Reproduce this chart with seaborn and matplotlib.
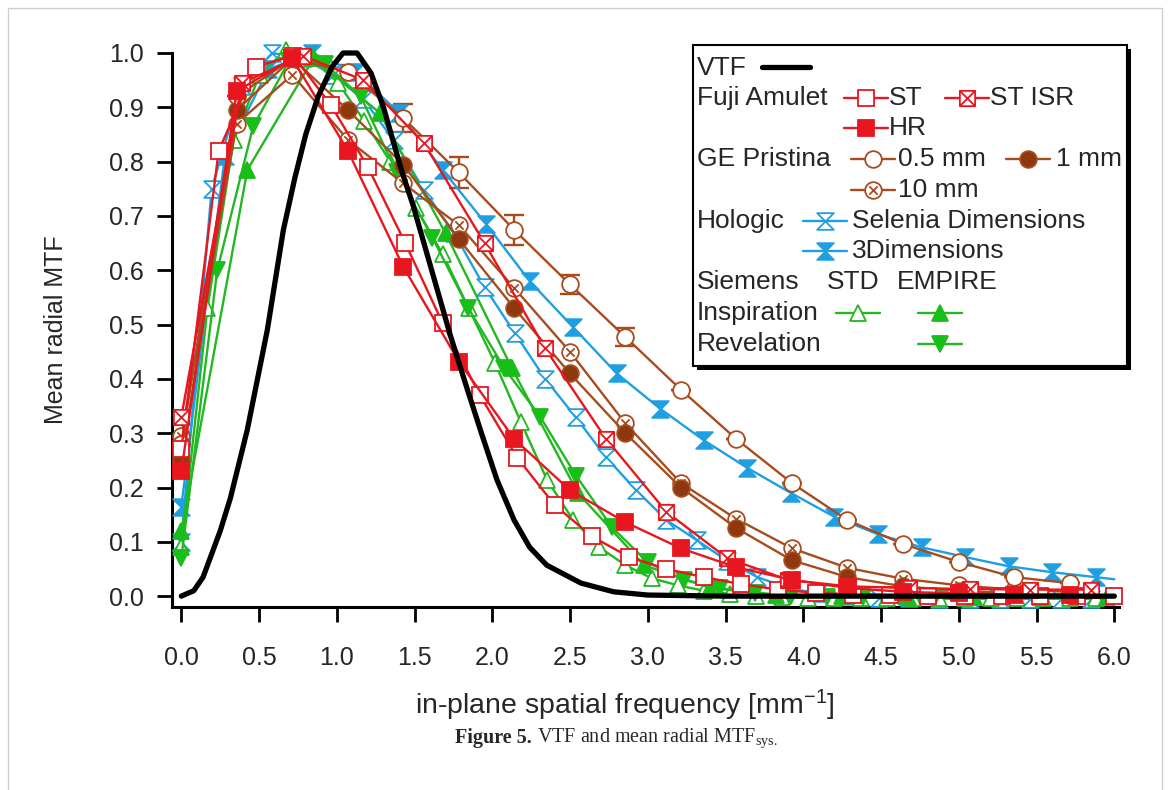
import matplotlib
matplotlib.use("Agg")
import numpy as np
import seaborn as sns
import matplotlib.pyplot as plt
from matplotlib.path import Path
from matplotlib.lines import Line2D
from matplotlib.patches import Rectangle

# ---- data ----
vtf_x = [0, 0.08, 0.14, 0.25, 0.315, 0.424, 0.553, 0.656, 0.73, 0.80, 0.88, 0.97, 1.04, 1.13,
         1.22, 1.30, 1.36, 1.42, 1.49, 1.55, 1.61, 1.73, 1.84, 1.93, 2.03, 2.14, 2.24, 2.35,
         2.57, 2.78, 3.0, 3.5, 4.0, 5.0, 6.0]
vtf_y = [0, 0.01, 0.035, 0.12, 0.18, 0.306, 0.49, 0.674, 0.77, 0.85, 0.92, 0.975, 1.0, 1.0,
         0.963, 0.90, 0.84, 0.78, 0.72, 0.66, 0.60, 0.48, 0.38, 0.30, 0.214, 0.14, 0.09, 0.057,
         0.024, 0.008, 0.002, 0.0, 0.0, 0.0, 0.0]

# Fuji Amulet
fuji_st_x = [0, 0.24, 0.48, 0.72, 0.96, 1.2, 1.44, 1.68, 1.92, 2.16, 2.4, 2.64, 2.88, 3.12,
             3.36, 3.6, 3.84, 4.08, 4.32, 4.56, 4.8, 5.04, 5.28, 5.52, 5.76, 6.0]
fuji_st_y = [0.27, 0.82, 0.975, 0.995, 0.905, 0.79, 0.65, 0.503, 0.37, 0.255, 0.168, 0.11,
             0.072, 0.05, 0.035, 0.022, 0.012, 0.006, 0.003, 0.002, 0.001, 0.0, 0.0, 0.0, 0.0, 0.0]
fuji_isr_x = [0, 0.39, 0.78, 1.17, 1.56, 1.95, 2.34, 2.73, 3.12, 3.51, 3.9, 4.29, 4.68, 5.07,
              5.46, 5.85]
fuji_isr_y = [0.33, 0.945, 0.995, 0.95, 0.834, 0.65, 0.456, 0.29, 0.155, 0.07, 0.03, 0.018,
              0.015, 0.013, 0.012, 0.012]
grid_357 = [0, 0.357, 0.714, 1.071, 1.428, 1.785, 2.142, 2.499, 2.856, 3.213, 3.57, 3.927,
            4.284, 4.641, 4.998, 5.355, 5.712]
fuji_hr_y = [0.23, 0.93, 0.99, 0.82, 0.606, 0.432, 0.289, 0.195, 0.136, 0.088, 0.053, 0.03,
             0.015, 0.008, 0.005, 0.003, 0.002]

# GE Pristina
ge_05_y = [0.28, 0.92, 0.99, 0.965, 0.88, 0.78, 0.674, 0.574, 0.477, 0.38, 0.289, 0.208, 0.14,
           0.096, 0.063, 0.035, 0.024]
ge_05_err = [0, 0, 0, 0.012, 0.026, 0.028, 0.027, 0.017, 0.016, 0, 0, 0, 0, 0, 0, 0, 0]
ge_1_y = [0.25, 0.895, 0.99, 0.895, 0.794, 0.657, 0.53, 0.41, 0.30, 0.20, 0.125, 0.066, 0.035,
          0.018, 0.01, 0.005, 0.003]
ge_10_y = [0.295, 0.87, 0.96, 0.84, 0.76, 0.683, 0.567, 0.45, 0.318, 0.208, 0.142, 0.088, 0.052,
           0.032, 0.02, 0.012, 0.008]

# Hologic
sel_x = [0, 0.195, 0.39, 0.585, 0.78, 0.975, 1.17, 1.365, 1.56, 1.755, 1.95, 2.145, 2.34, 2.535,
         2.73, 2.925, 3.12, 3.315, 3.51, 3.705, 3.9, 4.095, 4.29, 4.485, 4.68, 4.875, 5.07, 5.265,
         5.46, 5.655, 5.85]
sel_y = [0.10, 0.75, 0.94, 1.0, 0.99, 0.96, 0.915, 0.84, 0.748, 0.668, 0.569, 0.484, 0.40, 0.33,
         0.256, 0.195, 0.14, 0.103, 0.065, 0.035, 0.015, 0.005, 0.0, -0.003, -0.004, -0.005,
         -0.005, -0.005, -0.005, -0.005, -0.005]
dim3_x = [0, 0.28, 0.56, 0.84, 1.12, 1.40, 1.68, 1.96, 2.24, 2.52, 2.80, 3.08, 3.36, 3.64, 3.92,
          4.20, 4.48, 4.76, 5.04, 5.32, 5.60, 5.88, 6.0]
dim3_y = [0.165, 0.81, 0.97, 1.0, 0.965, 0.89, 0.785, 0.685, 0.58, 0.495, 0.41, 0.345, 0.287,
          0.236, 0.19, 0.146, 0.114, 0.09, 0.072, 0.055, 0.044, 0.035, 0.031]

# Siemens
insp_std_x = [0, 0.168, 0.336, 0.504, 0.672, 0.84, 1.008, 1.176, 1.344, 1.512, 1.68, 1.848,
              2.016, 2.184, 2.352, 2.52, 2.688, 2.856, 3.024, 3.192, 3.36, 3.528, 3.696, 3.864,
              4.032, 4.2, 4.368, 4.536, 4.704, 4.872, 5.04, 5.208, 5.376, 5.544, 5.712, 5.88]
insp_std_y = [0.09, 0.53, 0.84, 0.96, 1.005, 0.99, 0.945, 0.875, 0.80, 0.714, 0.63, 0.53, 0.43,
              0.32, 0.214, 0.14, 0.09, 0.057, 0.033, 0.02, 0.01, 0.004, 0.0, -0.002, -0.003,
              -0.003, -0.003, -0.003, -0.003, -0.003, -0.003, -0.003, -0.003, -0.003, -0.003, -0.003]
insp_emp_x = [0, 0.425, 0.85, 1.275, 1.70, 2.125, 2.55, 2.975, 3.4, 3.825, 4.25, 4.675, 5.1,
              5.525, 5.95]
insp_emp_y = [0.12, 0.785, 0.99, 0.89, 0.668, 0.42, 0.19, 0.057, 0.015, 0.003, 0.0, -0.002,
              -0.002, -0.002, -0.002]
rev_x = [0, 0.231, 0.462, 0.692, 0.923, 1.154, 1.385, 1.615, 1.846, 2.077, 2.308, 2.538, 2.769,
         3.0, 3.231, 3.462, 3.692, 3.923, 4.154, 4.385, 4.615, 4.846, 5.077, 5.308, 5.538,
         5.769, 6.0]
rev_y = [0.07, 0.60, 0.865, 0.985, 0.98, 0.92, 0.78, 0.66, 0.53, 0.42, 0.33, 0.222, 0.127,
         0.062, 0.03, 0.015, 0.005, 0.0, -0.002, -0.002, -0.002, -0.002, -0.002, -0.002,
         -0.002, -0.002, -0.002]

x_ticks = [0.0, 0.5, 1.0, 1.5, 2.0, 2.5, 3.0, 3.5, 4.0, 4.5, 5.0, 5.5, 6.0]
y_ticks = [0.0, 0.1, 0.2, 0.3, 0.4, 0.5, 0.6, 0.7, 0.8, 0.9, 1.0]

# ---- colours / markers ----
RED = "#e8161e"
BROWN = "#a84c1e"
BROWN_DARK = "#8e3810"
BLUE = "#1f9fe2"
GREEN = "#22b822"
GREEN_FILL = "#14c214"

M, L, C = Path.MOVETO, Path.LINETO, Path.CLOSEPOLY
HOURGLASS = Path([(-1, 1), (1, 1), (-1, -1), (1, -1), (-1, 1)], [M, L, L, L, C])
BOXX = Path([(-1, -1), (1, -1), (1, 1), (-1, 1), (-1, -1), (-1, -1), (1, 1), (-1, 1), (1, -1)],
            [M, L, L, L, C, M, L, M, L])
_circ = Path.unit_circle()
CIRCX = Path(list(_circ.vertices) + [(-0.5, -0.5), (0.5, 0.5), (-0.5, 0.5), (0.5, -0.5)],
             list(_circ.codes) + [M, L, M, L])

sns.set_style("white")
plt.rcParams["font.family"] = ["Liberation Sans", "DejaVu Sans"]
plt.rcParams["mathtext.default"] = "regular"

W, H = 1170, 790
fig = plt.figure(figsize=(W / 100, H / 100), dpi=100)


def fx(px):
    return px / W


def fy(py):
    return 1 - py / H


ax = fig.add_axes([fx(172), fy(607), fx(1119) - fx(172), fy(53) - fy(607)])


def series(x, y, color, marker, fc, ms, z, mew=1.3, lw=1.7, markevery=None):
    kw = dict(markevery=markevery) if markevery is not None else {}
    sns.lineplot(x=x, y=y, ax=ax, color=color, marker=marker, markersize=ms,
                 markerfacecolor=fc, markeredgecolor=color, markeredgewidth=mew,
                 lw=lw, sort=False, estimator=None, zorder=z, clip_on=False, **kw)


# error bars for GE 0.5 mm
ax.errorbar(grid_357, ge_05_y, yerr=ge_05_err, fmt="none", ecolor=BROWN, elinewidth=1.7,
            capsize=7, capthick=1.7, zorder=2, clip_on=False)

series(sel_x, sel_y, BLUE, HOURGLASS, "white", 12, 3)
series(dim3_x, dim3_y, BLUE, HOURGLASS, BLUE, 12, 3, markevery=list(range(len(dim3_x) - 1)))
series(insp_std_x, insp_std_y, GREEN, "^", "white", 12, 3)
series(insp_emp_x, insp_emp_y, GREEN, "^", GREEN_FILL, 12, 3)
series(rev_x, rev_y, GREEN, "v", GREEN_FILL, 12, 3)
series(grid_357, ge_10_y, BROWN, CIRCX, "white", 12, 4)
series(grid_357, ge_1_y, BROWN, "o", BROWN_DARK, 12, 4)
series(grid_357, ge_05_y, BROWN, "o", "white", 12, 4)
series(fuji_st_x, fuji_st_y, RED, "s", "white", 11, 5)
series(fuji_isr_x, fuji_isr_y, RED, BOXX, "white", 11, 5)
series(grid_357, fuji_hr_y, RED, "s", RED, 11, 5)
sns.lineplot(x=vtf_x, y=vtf_y, ax=ax, color="black", lw=3.8, sort=False, estimator=None,
             zorder=6, clip_on=False)

ax.set_xlim(-0.06, 6.03)
ax.set_ylim(-0.02, 1.0)
ax.set_xticks(x_ticks)
ax.set_yticks(y_ticks)
ax.set_xticklabels([f"{v:.1f}" for v in x_ticks])
ax.set_yticklabels([f"{v:.1f}" for v in y_ticks])
for s in ["top", "right"]:
    ax.spines[s].set_visible(False)
for s in ["left", "bottom"]:
    ax.spines[s].set_linewidth(2.2)
    ax.spines[s].set_color("black")
ax.tick_params(axis="both", direction="out", length=11, width=2.0, color="black",
               labelsize=18, left=True, bottom=True)
ax.tick_params(axis="x", pad=17)
ax.tick_params(axis="y", pad=9)
ax.set_xlabel("in-plane spatial frequency [mm$^{-1}$]", fontsize=20.5, labelpad=12)
ax.xaxis.set_label_coords(0.478, -0.145)
ax.set_ylabel("Mean radial MTF", fontsize=18, labelpad=30)

# ---- legend box drawn by hand ----
fig.add_artist(Rectangle((fx(697), fy(370)), fx(1131) - fx(697), fy(49) - fy(370),
                         transform=fig.transFigure, facecolor="black", edgecolor="none",
                         zorder=8))
fig.add_artist(Rectangle((fx(693), fy(366)), fx(1127) - fx(693), fy(45) - fy(366),
                         transform=fig.transFigure, facecolor="white", edgecolor="black",
                         lw=1.5, zorder=9))

LFS = 19


def ltext(px, py, s):
    fig.text(fx(px), fy(py), s, fontsize=LFS, va="center", ha="left", zorder=10)


def lmark(cx, py, color, marker, fc, ms, half=22, lw=1.7):
    fig.add_artist(Line2D([fx(cx - half), fx(cx), fx(cx + half)], [fy(py)] * 3,
                          transform=fig.transFigure, color=color, lw=lw, marker=marker,
                          markersize=ms, markerfacecolor=fc, markeredgecolor=color,
                          markeredgewidth=1.3, markevery=[1], zorder=10))


ltext(697, 68, "VTF")
fig.add_artist(Line2D([fx(762), fx(810)], [fy(67)] * 2, transform=fig.transFigure,
                      color="black", lw=3.8, zorder=10))
ltext(697, 98, "Fuji Amulet")
lmark(866, 98, RED, "s", "white", 11)
ltext(889, 98, "ST")
lmark(967, 98, RED, BOXX, "white", 11)
ltext(990, 98, "ST ISR")
lmark(866, 128, RED, "s", RED, 11)
ltext(889, 128, "HR")
ltext(697, 159, "GE Pristina")
lmark(873, 159, BROWN, "o", "white", 12)
ltext(898, 159, "0.5 mm")
lmark(1028, 159, BROWN, "o", BROWN_DARK, 12)
ltext(1056, 159, "1 mm")
lmark(873, 190, BROWN, CIRCX, "white", 12)
ltext(898, 190, "10 mm")
ltext(697, 221, "Hologic")
lmark(825, 221, BLUE, HOURGLASS, "white", 12)
ltext(852, 221, "Selenia Dimensions")
lmark(825, 251, BLUE, HOURGLASS, BLUE, 12)
ltext(852, 251, "3Dimensions")
ltext(697, 282, "Siemens")
ltext(827, 282, "STD")
ltext(897, 282, "EMPIRE")
ltext(697, 313, "Inspiration")
lmark(858, 313, GREEN, "^", "white", 12)
lmark(940, 313, GREEN, "^", GREEN_FILL, 12)
ltext(697, 344, "Revelation")
lmark(940, 344, GREEN, "v", GREEN_FILL, 12)

# ---- caption and page frame ----
renderer = fig.canvas.get_renderer()
cap1 = fig.text(fx(455), fy(738), "Figure 5.", fontsize=14.5, fontweight="bold",
                family=["Liberation Serif", "DejaVu Serif"], va="center", ha="left")
bb = cap1.get_window_extent(renderer)
fig.text(bb.x1 / W + fx(5), fy(738), "VTF and mean radial MTF$_{sys.}$", fontsize=14.5,
         family=["Liberation Serif", "DejaVu Serif"], va="center", ha="left")
fig.add_artist(Line2D([fx(8), fx(8), fx(1162), fx(1162)], [0, fy(8), fy(8), 0],
                      transform=fig.transFigure, color="#cfcfcf", lw=1.0))

fig.savefig("out.png", dpi=100)
